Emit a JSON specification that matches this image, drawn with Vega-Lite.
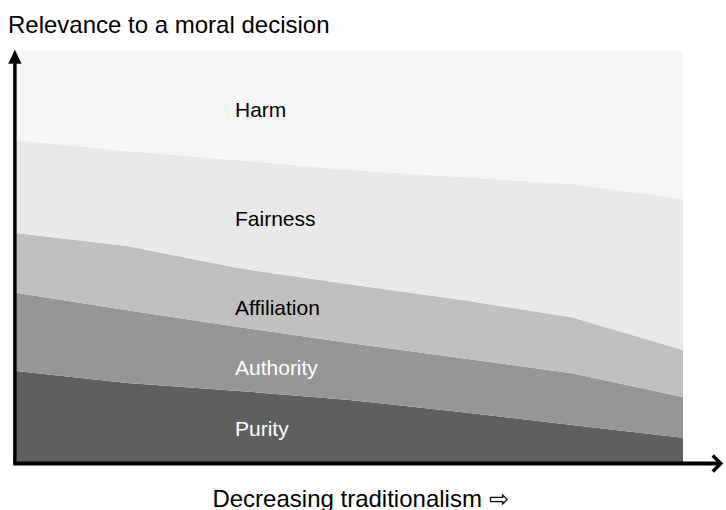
{
  "$schema": "https://vega.github.io/schema/vega-lite/v6.json",
  "width": 667,
  "height": 412,
  "autosize": {"type": "none"},
  "padding": {"left": 16, "top": 51, "right": 43, "bottom": 47},
  "background": "white",
  "config": {"view": {"stroke": null}, "font": "Liberation Sans"},
  "title": {
    "text": "Relevance to a moral decision",
    "anchor": "start",
    "frame": "group",
    "dx": -8,
    "dy": 24,
    "offset": 17,
    "fontSize": 24,
    "fontWeight": "normal",
    "color": "black",
    "font": "Liberation Sans",
    "baseline": "alphabetic"
  },
  "layer": [
    {
      "data": {
        "values": [
          {"step": 0, "foundation": "Purity", "rank": 1, "value": 22.3},
          {"step": 1, "foundation": "Purity", "rank": 1, "value": 19.4},
          {"step": 2, "foundation": "Purity", "rank": 1, "value": 17.5},
          {"step": 3, "foundation": "Purity", "rank": 1, "value": 15.3},
          {"step": 4, "foundation": "Purity", "rank": 1, "value": 12.4},
          {"step": 5, "foundation": "Purity", "rank": 1, "value": 9.2},
          {"step": 6, "foundation": "Purity", "rank": 1, "value": 6.1},
          {"step": 0, "foundation": "Authority", "rank": 2, "value": 19.0},
          {"step": 1, "foundation": "Authority", "rank": 2, "value": 17.7},
          {"step": 2, "foundation": "Authority", "rank": 2, "value": 15.5},
          {"step": 3, "foundation": "Authority", "rank": 2, "value": 13.8},
          {"step": 4, "foundation": "Authority", "rank": 2, "value": 13.1},
          {"step": 5, "foundation": "Authority", "rank": 2, "value": 12.6},
          {"step": 6, "foundation": "Authority", "rank": 2, "value": 9.9},
          {"step": 0, "foundation": "Affiliation", "rank": 3, "value": 14.5},
          {"step": 1, "foundation": "Affiliation", "rank": 3, "value": 15.6},
          {"step": 2, "foundation": "Affiliation", "rank": 3, "value": 14.3},
          {"step": 3, "foundation": "Affiliation", "rank": 3, "value": 14.3},
          {"step": 4, "foundation": "Affiliation", "rank": 3, "value": 14.1},
          {"step": 5, "foundation": "Affiliation", "rank": 3, "value": 13.6},
          {"step": 6, "foundation": "Affiliation", "rank": 3, "value": 11.4},
          {"step": 0, "foundation": "Fairness", "rank": 4, "value": 22.6},
          {"step": 1, "foundation": "Fairness", "rank": 4, "value": 23.0},
          {"step": 2, "foundation": "Fairness", "rank": 4, "value": 26.2},
          {"step": 3, "foundation": "Fairness", "rank": 4, "value": 27.7},
          {"step": 4, "foundation": "Fairness", "rank": 4, "value": 29.8},
          {"step": 5, "foundation": "Fairness", "rank": 4, "value": 32.3},
          {"step": 6, "foundation": "Fairness", "rank": 4, "value": 36.7},
          {"step": 0, "foundation": "Harm", "rank": 5, "value": 21.6},
          {"step": 1, "foundation": "Harm", "rank": 5, "value": 24.3},
          {"step": 2, "foundation": "Harm", "rank": 5, "value": 26.5},
          {"step": 3, "foundation": "Harm", "rank": 5, "value": 28.9},
          {"step": 4, "foundation": "Harm", "rank": 5, "value": 30.6},
          {"step": 5, "foundation": "Harm", "rank": 5, "value": 32.3},
          {"step": 6, "foundation": "Harm", "rank": 5, "value": 35.9}
        ]
      },
      "mark": {"type": "area", "interpolate": "linear"},
      "encoding": {
        "x": {
          "field": "step",
          "type": "quantitative",
          "scale": {"domain": [0, 6], "nice": false, "zero": false},
          "axis": {
            "domain": false,
            "ticks": false,
            "labels": false,
            "grid": false,
            "title": "Decreasing traditionalism ⇨",
            "titleFont": "Liberation Sans",
            "titleFontSize": 24,
            "titleFontWeight": "normal",
            "titleColor": "black",
            "titlePadding": 24,
            "titleX": 344
          }
        },
        "y": {
          "field": "value",
          "type": "quantitative",
          "stack": "zero",
          "scale": {"domain": [0, 100], "nice": false},
          "axis": null
        },
        "color": {
          "field": "foundation",
          "type": "nominal",
          "scale": {
            "domain": ["Purity", "Authority", "Affiliation", "Fairness", "Harm"],
            "range": ["#5f5f5f", "#969696", "#c0c0c0", "#e9e9e9", "#f6f6f6"]
          },
          "legend": null
        },
        "order": {"field": "rank", "type": "quantitative"}
      }
    },
    {
      "data": {
        "values": [
          {"label": "Harm", "px": 1.97, "py": 84.0},
          {"label": "Fairness", "px": 1.97, "py": 57.5},
          {"label": "Affiliation", "px": 1.97, "py": 35.9}
        ]
      },
      "mark": {"type": "text", "align": "left", "baseline": "alphabetic", "fontSize": 21, "font": "Liberation Sans", "color": "black"},
      "encoding": {
        "x": {"field": "px", "type": "quantitative"},
        "y": {"field": "py", "type": "quantitative"},
        "text": {"field": "label"}
      }
    },
    {
      "data": {
        "values": [
          {"label": "Authority", "px": 1.97, "py": 21.4},
          {"label": "Purity", "px": 1.97, "py": 6.5}
        ]
      },
      "mark": {"type": "text", "align": "left", "baseline": "alphabetic", "fontSize": 21, "font": "Liberation Sans", "color": "white"},
      "encoding": {
        "x": {"field": "px", "type": "quantitative"},
        "y": {"field": "py", "type": "quantitative"},
        "text": {"field": "label"}
      }
    },
    {
      "data": {"values": [{}]},
      "mark": {"type": "rule", "color": "black", "strokeWidth": 3.5},
      "encoding": {
        "x": {"datum": -0.01, "type": "quantitative"},
        "y": {"datum": -0.12, "type": "quantitative"},
        "y2": {"datum": 98.0}
      }
    },
    {
      "data": {"values": [{}]},
      "mark": {"type": "rule", "color": "black", "strokeWidth": 3.8},
      "encoding": {
        "x": {"datum": -0.025, "type": "quantitative"},
        "x2": {"datum": 6.34},
        "y": {"datum": -0.12, "type": "quantitative"}
      }
    },
    {
      "data": {"values": [{}]},
      "mark": {"type": "point", "shape": "M0,-1L0.95,1L-0.95,1Z", "size": 196, "filled": true, "color": "black", "opacity": 1},
      "encoding": {
        "x": {"datum": -0.01, "type": "quantitative"},
        "y": {"datum": 98.6, "type": "quantitative"}
      }
    },
    {
      "data": {"values": [{}]},
      "mark": {"type": "point", "shape": "M-1,-1L0,0L-1,1", "size": 256, "filled": false, "color": "black", "strokeWidth": 3.5, "opacity": 1, "strokeJoin": "miter"},
      "encoding": {
        "x": {"datum": 6.34, "type": "quantitative"},
        "y": {"datum": -0.12, "type": "quantitative"}
      }
    }
  ]
}
